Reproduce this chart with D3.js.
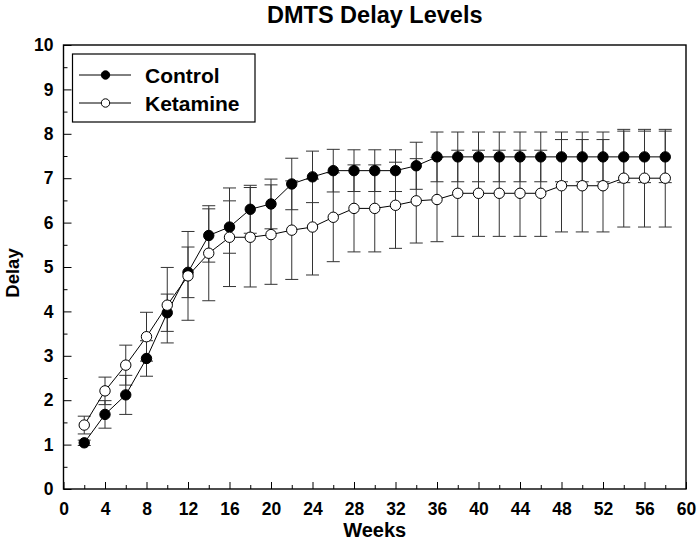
<!DOCTYPE html>
<html>
<head>
<meta charset="utf-8">
<script src="https://cdn.jsdelivr.net/npm/d3@7"></script>
<style>
  html, body { margin: 0; padding: 0; background: #fff; }
  svg { display: block; font-family: "Liberation Sans", Arial, sans-serif; }
</style>
</head>
<body>
<svg id="chart" width="700" height="543"></svg>
<script>
const weeks = [2,4,6,8,10,12,14,16,18,20,22,24,26,28,30,32,34,36,38,40,42,44,46,48,50,52,54,56,58];
const control = [1.04,1.68,2.12,2.94,3.97,4.88,5.71,5.90,6.30,6.42,6.87,7.03,7.17,7.17,7.17,7.17,7.28,
                 7.48,7.48,7.48,7.48,7.48,7.48,7.48,7.48,7.48,7.48,7.48,7.48];
const controlErr = [0.06,0.31,0.44,0.40,0.42,0.57,0.60,0.59,0.54,0.56,0.58,0.58,0.48,0.47,0.47,0.47,0.53,
                    0.56,0.56,0.56,0.56,0.56,0.56,0.56,0.56,0.56,0.58,0.58,0.58];
const ketamine = [1.44,2.21,2.79,3.43,4.14,4.80,5.31,5.67,5.67,5.73,5.83,5.90,6.12,6.32,6.32,6.39,6.49,
                  6.52,6.66,6.66,6.66,6.66,6.66,6.83,6.83,6.83,7.00,7.00,7.00];
const ketamineErr = [0.20,0.31,0.45,0.55,0.85,1.00,1.07,1.11,1.12,1.12,1.11,1.08,1.00,0.98,0.98,0.97,0.95,
                     0.95,0.97,0.97,0.97,0.97,0.97,1.04,1.04,1.04,1.10,1.10,1.10];
const xMajorTicks = [0,4,8,12,16,20,24,28,32,36,40,44,48,52,56,60];
const xMinorTicks = [2,6,10,14,18,22,26,30,34,38,42,46,50,54,58];
const yMajorTicks = [0,1,2,3,4,5,6,7,8,9,10];
const yMinorTicks = [0.5,1.5,2.5,3.5,4.5,5.5,6.5,7.5,8.5,9.5];
const seriesNames = ["Control","Ketamine"];
const title = "DMTS Delay Levels";
const xTitle = "Weeks";
const yTitle = "Delay";

const svg = d3.select("#chart");
const L = 63.5, R = 686, T = 45, B = 489;
const x = d3.scaleLinear().domain([0,60]).range([L,R]);
const y = d3.scaleLinear().domain([0,10]).range([B,T]);

// Title
svg.append("text").attr("x", (L+R)/2).attr("y", 23).attr("text-anchor","middle")
  .attr("font-size", 23.5).attr("font-weight","bold").text(title);

// Axes
const gx = svg.append("g").attr("transform", `translate(0,${B})`)
  .call(d3.axisBottom(x).tickValues(xMajorTicks).tickSize(-7).tickPadding(14).tickFormat(d3.format("d")));
const gxm = svg.append("g").attr("transform", `translate(0,${B})`)
  .call(d3.axisBottom(x).tickValues(xMinorTicks).tickSize(-4).tickFormat(""));
const gy = svg.append("g").attr("transform", `translate(${L},0)`)
  .call(d3.axisLeft(y).tickValues(yMajorTicks).tickSize(-8).tickPadding(18).tickFormat(d3.format("d")));
const gym = svg.append("g").attr("transform", `translate(${L},0)`)
  .call(d3.axisLeft(y).tickValues(yMinorTicks).tickSize(-4).tickFormat(""));
[gx,gxm,gy,gym].forEach(g => {
  g.select(".domain").remove();
  g.selectAll(".tick line").attr("stroke","#000").attr("stroke-width",1);
  g.selectAll(".tick text").attr("font-size",17.5).attr("font-weight","bold")
    .attr("font-family",'"Liberation Sans", Arial, sans-serif').attr("fill","#000");
});
gy.selectAll(".tick text").attr("dx", 8);

// Frame
svg.append("rect").attr("x",L).attr("y",T).attr("width",R-L).attr("height",B-T)
  .attr("fill","none").attr("stroke","#000").attr("stroke-width",1.4);

// Axis titles
svg.append("text").attr("x",(L+R)/2).attr("y",537).attr("text-anchor","middle")
  .attr("font-size",20).attr("font-weight","bold").text(xTitle);
svg.append("text").attr("transform",`translate(19,${(T+B)/2+6}) rotate(-90)`).attr("text-anchor","middle")
  .attr("font-size",18.5).attr("font-weight","bold").text(yTitle);

// Data
const ctrl = weeks.map((w,i)=>({w, v:control[i], e:controlErr[i]}));
const ket = weeks.map((w,i)=>({w, v:ketamine[i], e:ketamineErr[i]}));

function errBars(data){
  const g = svg.append("g").attr("stroke","#333").attr("stroke-width",1).attr("fill","none");
  data.forEach(d=>{
    g.append("line").attr("x1",x(d.w)).attr("x2",x(d.w)).attr("y1",y(d.v-d.e)).attr("y2",y(d.v+d.e));
    [d.v-d.e, d.v+d.e].forEach(v=>{
      g.append("line").attr("x1",x(d.w)-6.5).attr("x2",x(d.w)+6.5).attr("y1",y(v)).attr("y2",y(v));
    });
  });
}
errBars(ctrl);
errBars(ket);

const line = d3.line().x(d=>x(d.w)).y(d=>y(d.v));
function series(data, fill){
  svg.append("path").datum(data).attr("d",line).attr("fill","none").attr("stroke","#000").attr("stroke-width",1);
  svg.append("g").selectAll("circle").data(data).join("circle")
    .attr("cx",d=>x(d.w)).attr("cy",d=>y(d.v)).attr("r",5.2)
    .attr("fill",fill).attr("stroke","#000").attr("stroke-width",1);
}
series(ctrl,"#000");
series(ket,"#fff");

// Legend
const lg = svg.append("g");
lg.append("rect").attr("x",72.5).attr("y",54).attr("width",182.5).attr("height",68)
  .attr("fill","#fff").attr("stroke","#000").attr("stroke-width",1.2);
[["#000",75],["#fff",103]].forEach(([f,yy],i)=>{
  lg.append("line").attr("x1",79).attr("x2",131).attr("y1",yy).attr("y2",yy).attr("stroke","#000").attr("stroke-width",1);
  lg.append("circle").attr("cx",105.5).attr("cy",yy).attr("r",4.2).attr("fill",f).attr("stroke","#000").attr("stroke-width",1);
  lg.append("text").attr("x",145).attr("y",yy+7.5).attr("font-size",21).attr("font-weight","bold").text(seriesNames[i]);
});
</script>
</body>
</html>
